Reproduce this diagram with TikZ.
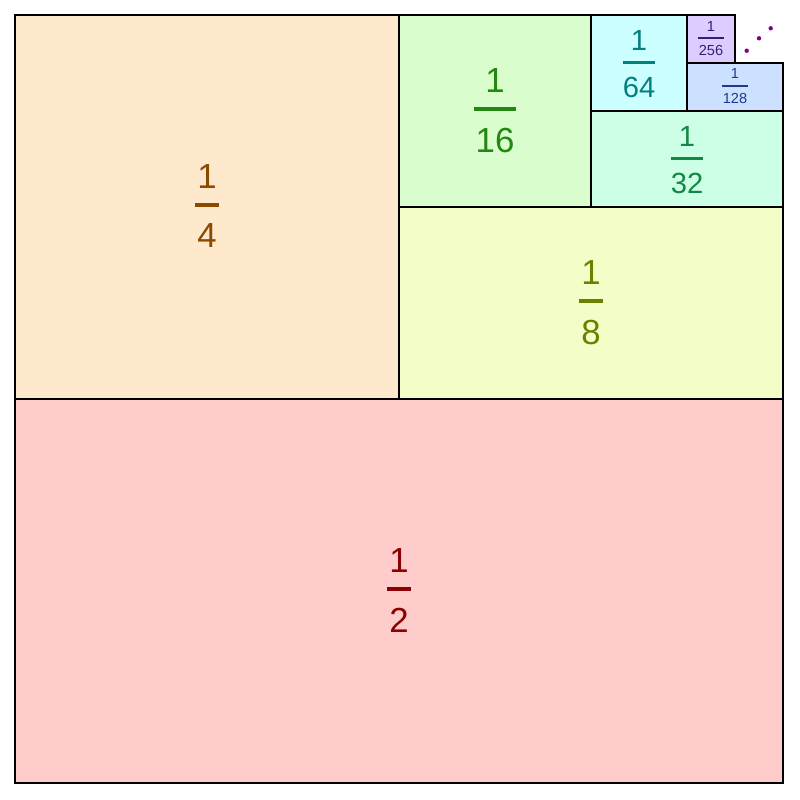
\documentclass[tikz,border=0pt]{standalone}
\usepackage{fontspec}
\setmainfont{Liberation Sans}
\usepackage{xcolor}
\definecolor{halffill}{RGB}{255,204,204}
\definecolor{halftext}{RGB}{139,0,0}
\definecolor{quartfill}{RGB}{255,233,204}
\definecolor{quarttext}{RGB}{139,74,0}
\definecolor{eighthfill}{RGB}{243,253,200}
\definecolor{eighthtext}{RGB}{107,128,0}
\definecolor{sixtfill}{RGB}{217,253,204}
\definecolor{sixttext}{RGB}{34,136,17}
\definecolor{thirtyfill}{RGB}{204,255,229}
\definecolor{thirtytext}{RGB}{17,136,68}
\definecolor{sixtyfill}{RGB}{204,255,255}
\definecolor{sixtytext}{RGB}{0,128,128}
\definecolor{onetwofill}{RGB}{204,224,255}
\definecolor{onetwotext}{RGB}{30,58,140}
\definecolor{twofivefill}{RGB}{221,204,255}
\definecolor{twofivetext}{RGB}{51,30,120}
\definecolor{dotpurple}{RGB}{128,0,128}
\usetikzlibrary{positioning}

\tikzset{
  cell/.style={draw=black, line width=0.6pt},
  bigsz/.style={font=\fontsize{19.8}{24}\selectfont},
  midsz/.style={font=\fontsize{16.6}{20}\selectfont},
  smallsz/.style={font=\fontsize{8.3}{10}\selectfont},
  bar/.style={fill=#1, draw=none, text height=0pt, text depth=0pt, outer sep=0pt},
  bigbar/.style={inner xsep=1.1pt, inner ysep=1.13pt},
  midbar/.style={inner xsep=0pt, inner ysep=0.7pt},
  smallbar/.style={inner xsep=0.3pt, inner ysep=0.37pt},
  digit/.style={text=#1, inner sep=0pt, outer sep=0pt}
}

\begin{document}
\begin{tikzpicture}[x=0.02cm, y=0.02cm]
  \useasboundingbox (0,0) rectangle (800,799);

  % Cells, each half of what is left
  \draw[cell, fill=halffill]    (15,16) rectangle (783,400);
  \draw[cell, fill=quartfill]   (15,400) rectangle (399,784);
  \draw[cell, fill=eighthfill]  (399,400) rectangle (783,592);
  \draw[cell, fill=sixtfill]    (399,592) rectangle (591,784);
  \draw[cell, fill=thirtyfill]  (591,592) rectangle (783,688);
  \draw[cell, fill=sixtyfill]   (591,688) rectangle (687,784);
  \draw[cell, fill=onetwofill]  (687,688) rectangle (783,736);
  \draw[cell, fill=twofivefill] (687,736) rectangle (735,784);

  % --- 1/2 ---
  \node[bar=halftext, bigbar, bigsz] (bar2) at (399,210) {\phantom{2}};
  \node[digit=halftext, bigsz, above=8.5pt of bar2] (num2) {1};
  \node[digit=halftext, bigsz, below=9.6pt of bar2] (den2) {2};

  % --- 1/4 ---
  \node[bar=quarttext, bigbar, bigsz] (bar4) at (207,594) {\phantom{4}};
  \node[digit=quarttext, bigsz, above=8.5pt of bar4] (num4) {1};
  \node[digit=quarttext, bigsz, below=9.6pt of bar4] (den4) {4};

  % --- 1/8 ---
  \node[bar=eighthtext, bigbar, bigsz] (bar8) at (591,498) {\phantom{8}};
  \node[digit=eighthtext, bigsz, above=8.5pt of bar8] (num8) {1};
  \node[digit=eighthtext, bigsz, below=9.6pt of bar8] (den8) {8};

  % --- 1/16 ---
  \node[bar=sixttext, bigbar, bigsz] (bar16) at (495,690) {\phantom{16}};
  \node[digit=sixttext, bigsz, above=8.5pt of bar16] (num16) {1};
  \node[digit=sixttext, bigsz, below=9.6pt of bar16] (den16) {16};

  % --- 1/32 ---
  \node[bar=thirtytext, midbar, midsz] (bar32) at (687,640.7) {\phantom{32}};
  \node[digit=thirtytext, midsz, above=6.2pt of bar32] (num32) {1};
  \node[digit=thirtytext, midsz, below=7.7pt of bar32] (den32) {32};

  % --- 1/64 ---
  \node[bar=sixtytext, midbar, midsz] (bar64) at (639,736.7) {\phantom{64}};
  \node[digit=sixtytext, midsz, above=6.2pt of bar64] (num64) {1};
  \node[digit=sixtytext, midsz, below=7.7pt of bar64] (den64) {64};

  % --- 1/128 ---
  \node[bar=onetwotext, smallbar, smallsz] (bar128) at (735,713) {\phantom{128}};
  \node[digit=onetwotext, smallsz, above=3.6pt of bar128] (num128) {1};
  \node[digit=onetwotext, smallsz, below=3.75pt of bar128] (den128) {128};

  % --- 1/256 ---
  \node[bar=twofivetext, smallbar, smallsz] (bar256) at (711,760.7) {\phantom{256}};
  \node[digit=twofivetext, smallsz, above=3.6pt of bar256] (num256) {1};
  \node[digit=twofivetext, smallsz, below=3.75pt of bar256] (den256) {256};

  % and so on
  \fill[dotpurple] (746.7,748.3) circle (1.25pt);
  \fill[dotpurple] (759,760.7) circle (1.25pt);
  \fill[dotpurple] (770.7,770.7) circle (1.25pt);
\end{tikzpicture}
\end{document}
